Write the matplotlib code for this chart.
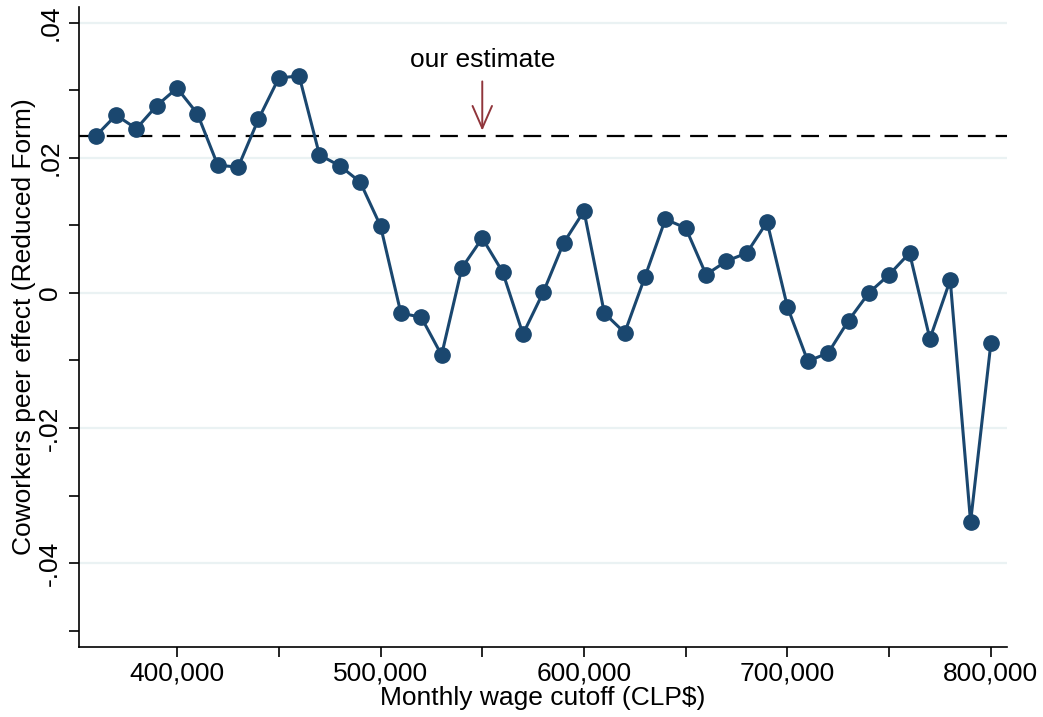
import numpy as np
import matplotlib.pyplot as plt
from matplotlib.ticker import FuncFormatter, MultipleLocator

plt.rcParams['font.family'] = ['Liberation Sans', 'DejaVu Sans']

# Reduced-form coworker peer effect by wage cutoff
cutoffs = np.arange(360000, 800001, 10000)
effects = [0.0232, 0.0263, 0.0243, 0.0277, 0.0303, 0.0265, 0.0189, 0.0186, 0.0257, 0.0318,
           0.0321, 0.0204, 0.0188, 0.0164, 0.0099, -0.0030, -0.0036, -0.0092, 0.0037, 0.0081,
           0.0031, -0.0061, 0.0001, 0.0074, 0.0121, -0.0030, -0.0059, 0.0024, 0.0109, 0.0096,
           0.0027, 0.0047, 0.0059, 0.0105, -0.0021, -0.0101, -0.0089, -0.0041, 0.0000, 0.0027,
           0.0059, -0.0068, 0.0019, -0.0339, -0.0074]
our_estimate = 0.0232
arrow_x = 550000

fig = plt.figure(figsize=(10.43, 7.17), dpi=100)
ax = fig.add_axes([79 / 1043, 1 - 647 / 717, (1007 - 79) / 1043, (647 - 7) / 717])

navy = '#1a476f'
ax.plot(cutoffs, effects, color=navy, lw=2.2, marker='o', ms=11, zorder=3)
ax.axhline(our_estimate, color='black', lw=1.6, ls=(0, (8, 4.5)), zorder=2)

ax.annotate('', xy=(arrow_x, our_estimate + 0.0004), xytext=(arrow_x, 0.0317),
            arrowprops=dict(arrowstyle='->,head_length=0.8,head_width=0.35',
                            mutation_scale=20, color='#90353b', lw=1.4))
ax.text(arrow_x, 0.0345, 'our estimate', ha='center', va='center', fontsize=19)

ax.set_xlim(351800, 807900)
ax.set_ylim(-0.0524, 0.0423)

ax.xaxis.set_major_locator(MultipleLocator(100000))
ax.xaxis.set_minor_locator(MultipleLocator(50000))
ax.yaxis.set_major_locator(MultipleLocator(0.02))
ax.yaxis.set_minor_locator(MultipleLocator(0.01))
ax.xaxis.set_major_formatter(FuncFormatter(lambda v, p: f'{int(round(v)):,}'))

def ylab(v, p):
    if abs(v) < 1e-9:
        return '0'
    return f'{v:.2f}'.replace('0.', '.')
ax.yaxis.set_major_formatter(FuncFormatter(ylab))

ax.tick_params(axis='both', which='major', length=7, width=1.2, labelsize=19, color='black')
ax.tick_params(axis='both', which='minor', length=7, width=1.2)
ax.tick_params(axis='y', labelrotation=90, pad=5)
for lbl in ax.get_yticklabels():
    lbl.set_va('center')

ax.grid(axis='y', which='major', color='#eaf2f3', lw=1.6, zorder=0)
ax.set_axisbelow(True)
for s in ['top', 'right']:
    ax.spines[s].set_visible(False)
for s in ['left', 'bottom']:
    ax.spines[s].set_linewidth(1.2)

ax.set_xlabel('Monthly wage cutoff (CLP$)', fontsize=19, labelpad=0)
ax.set_ylabel('Coworkers peer effect (Reduced Form)', fontsize=19, labelpad=2)

fig.savefig('out.png', dpi=100)
